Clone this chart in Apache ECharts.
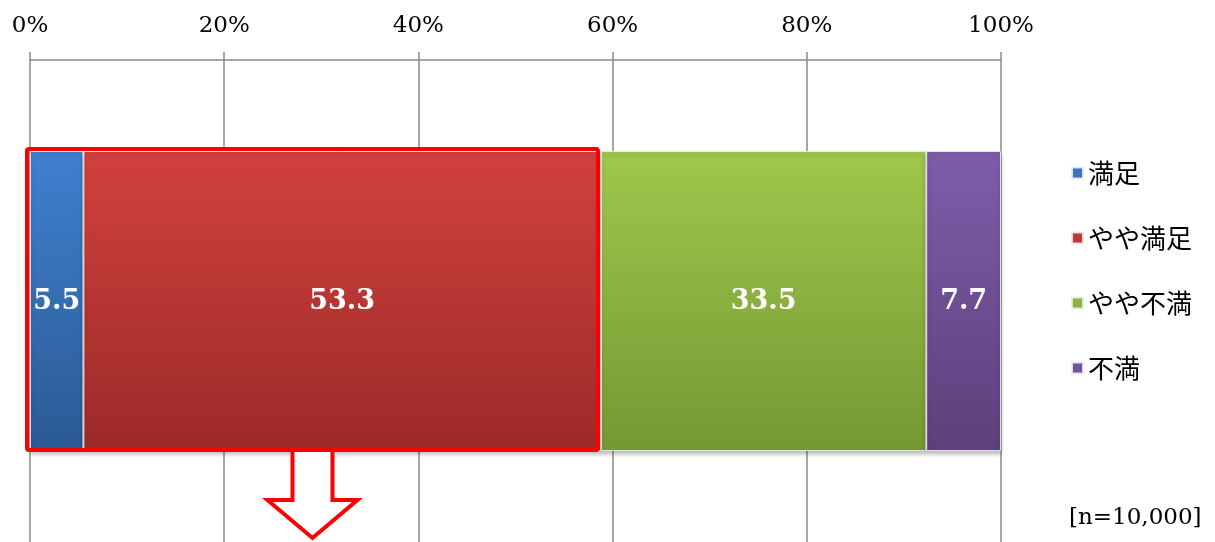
<!DOCTYPE html>
<html><head><meta charset="utf-8">
<script src="https://cdn.jsdelivr.net/npm/echarts@6/dist/echarts.min.js"></script>
<style>html,body{margin:0;padding:0;background:#fff}#c{width:1215px;height:542px}</style>
</head><body><div id="c"></div>
<script>
const categories = ['全体'];
const seriesNames = ['満足', 'やや満足', 'やや不満', '不満'];
const values = [5.5, 53.3, 33.5, 7.7];
const axisTicks = [0, 20, 40, 60, 80, 100];
const sampleNote = '[n=10,000]';

const gradients = [
  ['#3f80d0', '#2b5a94'],
  ['#d2413e', '#9c2a28'],
  ['#9fc84c', '#759833'],
  ['#7f5caa', '#5c407b']
];
const legendColors = ['#3a74bd', '#c0393b', '#8db43f', '#7052a0'];

const chart = echarts.init(document.getElementById('c'), null, {renderer: 'canvas'});

const series = seriesNames.map((name, i) => ({
  name: name,
  type: 'bar',
  stack: 'total',
  barWidth: 300,
  data: [values[i]],
  itemStyle: {
    color: new echarts.graphic.LinearGradient(0, 0, 0, 1, [
      {offset: 0, color: gradients[i][0]},
      {offset: 1, color: gradients[i][1]}
    ]),
    borderColor: 'rgba(235,235,235,0.9)',
    borderWidth: 1,
    shadowColor: 'rgba(0,0,0,0.25)',
    shadowBlur: 4,
    shadowOffsetY: 3
  },
  label: {
    show: true,
    position: 'inside',
    color: '#fff',
    fontFamily: 'DejaVu Serif',
    fontWeight: 'bold',
    fontSize: 27,
    offset: [0, 1],
    formatter: p => p.value.toFixed(1)
  }
}));

chart.setOption({
  animation: false,
  grid: {left: 30, right: 214, top: 60, height: 486, containLabel: false},
  xAxis: {
    type: 'value',
    position: 'top',
    min: axisTicks[0],
    max: axisTicks[axisTicks.length - 1],
    interval: axisTicks[1] - axisTicks[0],
    axisLine: {show: true, lineStyle: {color: '#8a8a8a', width: 1.5}},
    axisTick: {show: true, length: 8, lineStyle: {color: '#8a8a8a', width: 1.5}},
    splitLine: {show: true, lineStyle: {color: '#8a8a8a', width: 1.5}},
    axisLabel: {
      margin: 22,
      color: '#000',
      fontFamily: 'DejaVu Serif',
      fontSize: 23,
      formatter: '{value}%'
    }
  },
  yAxis: {
    type: 'category',
    data: categories,
    show: false
  },
  legend: {
    orient: 'vertical',
    left: 1066,
    top: 155,
    itemWidth: 11,
    itemHeight: 11,
    itemGap: 39,
    icon: 'rect',
    data: seriesNames.map((n, i) => ({name: n, itemStyle: {color: legendColors[i]}})),
    textStyle: {fontFamily: 'Noto Sans CJK JP', fontSize: 26, color: '#000', padding: [0, 0, 0, 0]}
  },
  series: series
});

// annotation: red frame around the first two segments + arrow below
const fx0 = chart.convertToPixel({xAxisIndex: 0}, 0);
const fx2 = chart.convertToPixel({xAxisIndex: 0}, values[0] + values[1]);
const fyc = chart.convertToPixel({yAxisIndex: 0}, 0);
const fTop = fyc - 152, fBottom = fyc + 149;
const fLeft = fx0 - 3, fRight = fx2 - 3;
const cx = (fLeft + fRight) / 2;

chart.setOption({
  graphic: [
    {
      type: 'rect', z: 100,
      shape: {x: fLeft, y: fTop, width: fRight - fLeft, height: fBottom - fTop, r: 2},
      style: {fill: null, stroke: '#ff0000', lineWidth: 4}
    },
    {
      type: 'polygon', z: 100,
      shape: {points: [
        [cx - 20, fBottom], [cx - 20, fBottom + 50], [cx - 45, fBottom + 50],
        [cx, fBottom + 88], [cx + 45, fBottom + 50], [cx + 20, fBottom + 50], [cx + 20, fBottom]
      ]},
      style: {fill: '#fff', stroke: '#ff0000', lineWidth: 4, lineJoin: 'miter'}
    },
    {
      type: 'text', z: 100,
      left: 1069, top: 507,
      style: {text: sampleNote, fill: '#000', font: '23px "DejaVu Serif"'}
    }
  ]
});
</script>
</body></html>
